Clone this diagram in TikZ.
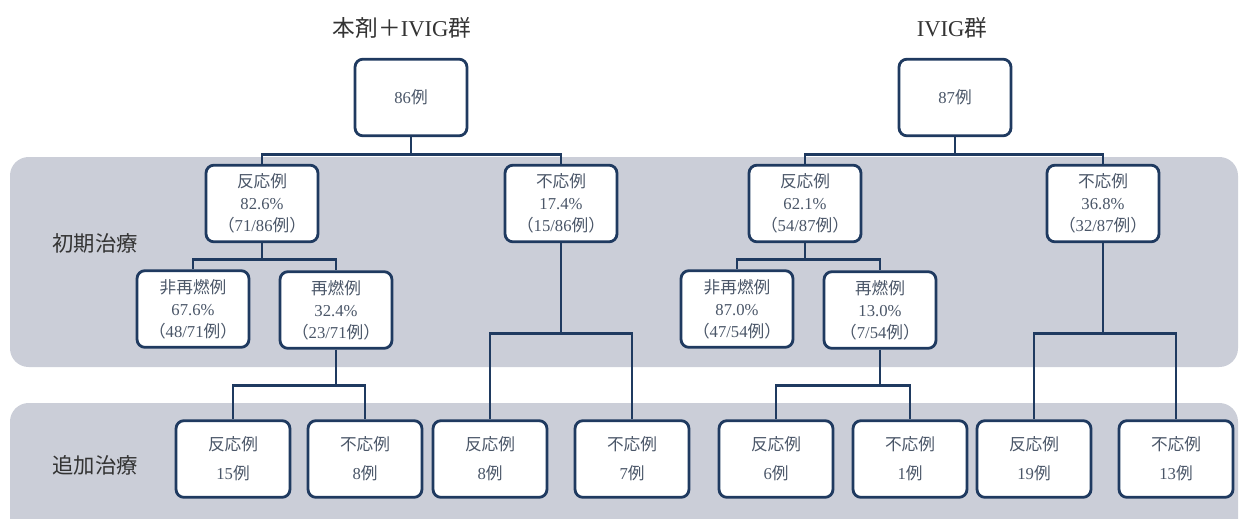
\documentclass[tikz,border=0pt]{standalone}
\usepackage{fontspec}
\setmainfont{Liberation Serif}
\newfontfamily\cj{Noto Sans CJK JP}
\definecolor{navy}{HTML}{1F3A60}
\definecolor{textc}{HTML}{4A5668}
\definecolor{titlec}{HTML}{333333}
\definecolor{bandc}{HTML}{CBCED8}
\begin{document}
\begin{tikzpicture}[x=0.75pt,y=-0.75pt,
  box/.style={draw=navy, line width=2.1pt, rounded corners=6pt, fill=white,
    minimum width=84pt, minimum height=57.5pt, inner sep=0pt, align=center,
    text=textc, font=\fontsize{12.5}{16.5}\selectfont},
  boxlow/.style={box, minimum width=85.5pt, font=\fontsize{12.5}{21.5}\selectfont},
  conn/.style={draw=navy, line width=2.1pt},
  grouptitle/.style={text=titlec, font=\fontsize{17}{20}\selectfont},
  band/.style={fill=bandc, rounded corners=14pt},
  lab/.style={text=titlec, font=\fontsize{16}{19}\selectfont}]
\useasboundingbox (0,0) rectangle (1239,518);
\begin{scope}
\clip (0,0) rectangle (1239,518);
\fill[band] (10,157) rectangle (1238,367);
\fill[band] (10,403) rectangle (1238,540);
\end{scope}

% titles
\node[grouptitle] (t1) at (402,28) {{\cj 本剤＋}IVIG{\cj 群}};
\node[grouptitle] (t2) at (952,28) {IVIG{\cj 群}};

% labels
\node[lab] (l1) at (95,243) {\cj 初期治療};
\node[lab] (l2) at (95,465) {\cj 追加治療};

% top boxes
\node[box] (r1) at (411,97.5) {86{\cj 例}};
\node[box] (r2) at (955,97.5) {87{\cj 例}};

% level 1
\node[box] (a1) at (262,203.5) {{\cj 反応例}\\82.6\%\\{\cj （}71/86{\cj 例）}};
\node[box] (a2) at (561,203.5) {{\cj 不応例}\\17.4\%\\{\cj （}15/86{\cj 例）}};
\node[box] (a3) at (805,203.5) {{\cj 反応例}\\62.1\%\\{\cj （}54/87{\cj 例）}};
\node[box] (a4) at (1103,203.5) {{\cj 不応例}\\36.8\%\\{\cj （}32/87{\cj 例）}};

% level 2
\node[box] (b1) at (193,309) {{\cj 非再燃例}\\67.6\%\\{\cj （}48/71{\cj 例）}};
\node[box] (b2) at (336,310) {{\cj 再燃例}\\32.4\%\\{\cj （}23/71{\cj 例）}};
\node[box] (b3) at (737,309) {{\cj 非再燃例}\\87.0\%\\{\cj （}47/54{\cj 例）}};
\node[box] (b4) at (880,310) {{\cj 再燃例}\\13.0\%\\{\cj （}7/54{\cj 例）}};

% level 3
\node[boxlow] (c1) at (233,459) {{\cj 反応例}\\15{\cj 例}};
\node[boxlow] (c2) at (365,459) {{\cj 不応例}\\8{\cj 例}};
\node[boxlow] (c3) at (490,459) {{\cj 反応例}\\8{\cj 例}};
\node[boxlow] (c4) at (632,459) {{\cj 不応例}\\7{\cj 例}};
\node[boxlow] (c5) at (776,459) {{\cj 反応例}\\6{\cj 例}};
\node[boxlow] (c6) at (910,459) {{\cj 不応例}\\1{\cj 例}};
\node[boxlow] (c7) at (1034,459) {{\cj 反応例}\\19{\cj 例}};
\node[boxlow] (c8) at (1176,459) {{\cj 不応例}\\13{\cj 例}};

% connectors
\draw[conn] (r1.south) -- ++(0,17) coordinate (j1) -| (a1.north);
\draw[conn] (j1) -| (a2.north);
\draw[conn] (r2.south) -- ++(0,17) coordinate (j2) -| (a3.north);
\draw[conn] (j2) -| (a4.north);

\draw[conn] (a1.south) -- ++(0,16) coordinate (j3) -| (b1.north);
\draw[conn] (j3) -| (b2.north);
\draw[conn] (a3.south) -- ++(0,16) coordinate (j4) -| (b3.north);
\draw[conn] (j4) -| (b4.north);

\draw[conn] (b2.south) -- ++(0,36) coordinate (j5) -| (c1.north);
\draw[conn] (j5) -| (c2.north);
\draw[conn] (a2.south) -- ++(0,90) coordinate (j6) -| (c3.north);
\draw[conn] (j6) -| (c4.north);
\draw[conn] (b4.south) -- ++(0,36) coordinate (j7) -| (c5.north);
\draw[conn] (j7) -| (c6.north);
\draw[conn] (a4.south) -- ++(0,90) coordinate (j8) -| (c7.north);
\draw[conn] (j8) -| (c8.north);
\end{tikzpicture}
\end{document}
